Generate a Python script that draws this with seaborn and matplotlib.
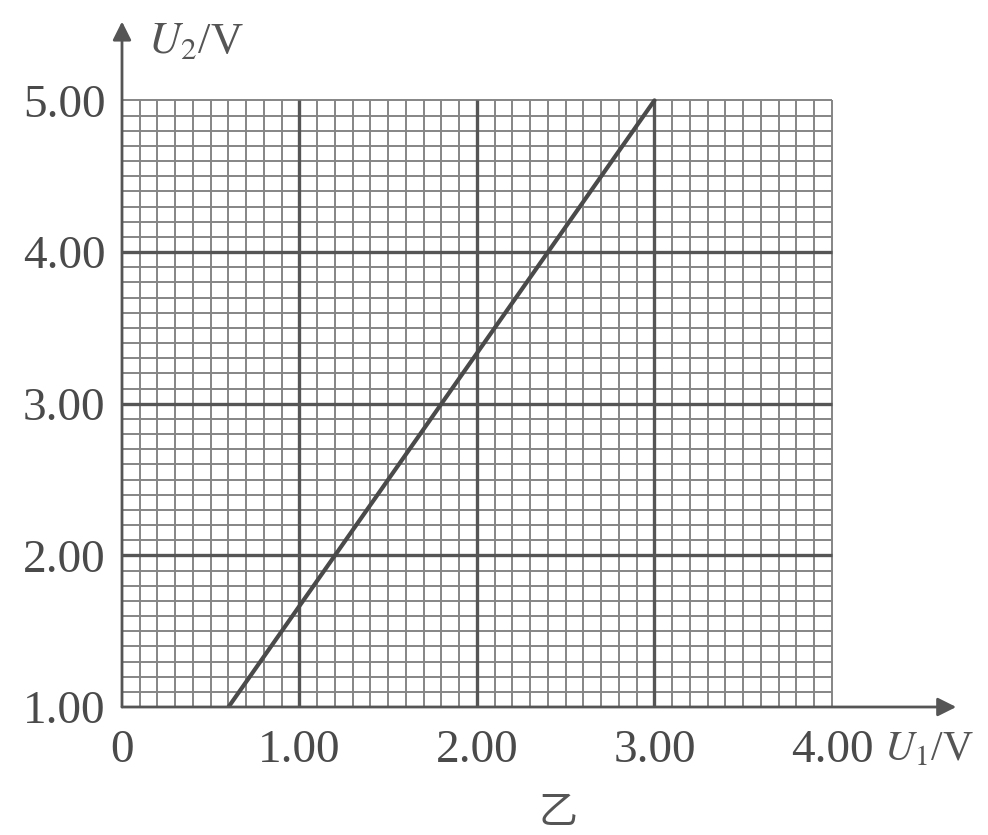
import numpy as np
import seaborn as sns
import matplotlib.pyplot as plt

# data
u1 = [0.60, 3.00]
u2 = [1.00, 5.00]
x_ticks = [0, 1, 2, 3, 4]
x_tick_labels = ["0", "1.00", "2.00", "3.00", "4.00"]
y_ticks = [1, 2, 3, 4, 5]
y_tick_labels = ["1.00", "2.00", "3.00", "4.00", "5.00"]

sns.set_style("white")
plt.rcParams["font.family"] = ["Liberation Serif", "Noto Sans CJK SC", "DejaVu Sans"]
plt.rcParams["mathtext.fontset"] = "stix"

fig = plt.figure(figsize=(9.88, 8.35), dpi=100)
ax = fig.add_axes([122 / 988, 1 - 707 / 835, (958 - 122) / 988, (707 - 20) / 835])
ax.set_xlim(0, 4.71)
ax.set_ylim(1, 5.53)

# coordinate paper: minor lines every 0.1, darker lines on whole volts
gx = np.arange(0, 4.001, 0.1)
gy = np.arange(1, 5.001, 0.1)
ax.vlines(gx, 1, 5, color="#858585", lw=1.4, zorder=1)
ax.hlines(gy, 0, 4, color="#858585", lw=1.4, zorder=1)
ax.vlines([1, 2, 3], 1, 5, color="#555555", lw=2.4, zorder=2)
ax.hlines([2, 3, 4], 0, 4, color="#555555", lw=2.4, zorder=2)

sns.lineplot(x=u1, y=u2, ax=ax, color="#4a4a4a", lw=3, zorder=3)

# axes with arrows
arrow = dict(arrowstyle="-|>", color="#555555", lw=2, mutation_scale=28, shrinkA=0, shrinkB=0)
ax.annotate("", xy=(4.70, 1), xytext=(0, 1), arrowprops=arrow, zorder=4)
ax.annotate("", xy=(0, 5.52), xytext=(0, 1), arrowprops=arrow, zorder=4)

for s in ax.spines.values():
    s.set_visible(False)

ax.set_xticks(x_ticks, x_tick_labels)
ax.set_yticks(y_ticks, y_tick_labels)
ax.tick_params(axis="both", length=0, labelsize=34, labelcolor="#4a4a4a")
ax.tick_params(axis="x", pad=16)
ax.tick_params(axis="y", pad=12)

fig.text(148 / 988, 1 - 42 / 835, r"$U_2$/V", fontsize=32, color="#555555", va="center", ha="left")
fig.text(884 / 988, 1 - 750 / 835, r"$U_1$/V", fontsize=30, color="#555555", va="center", ha="left")
fig.text(558 / 988, 1 - 812 / 835, "乙", fontsize=28, color="#555555", va="center", ha="center",
         family=["Noto Sans CJK SC", "DejaVu Sans"])

fig.savefig("out.png", dpi=100)
